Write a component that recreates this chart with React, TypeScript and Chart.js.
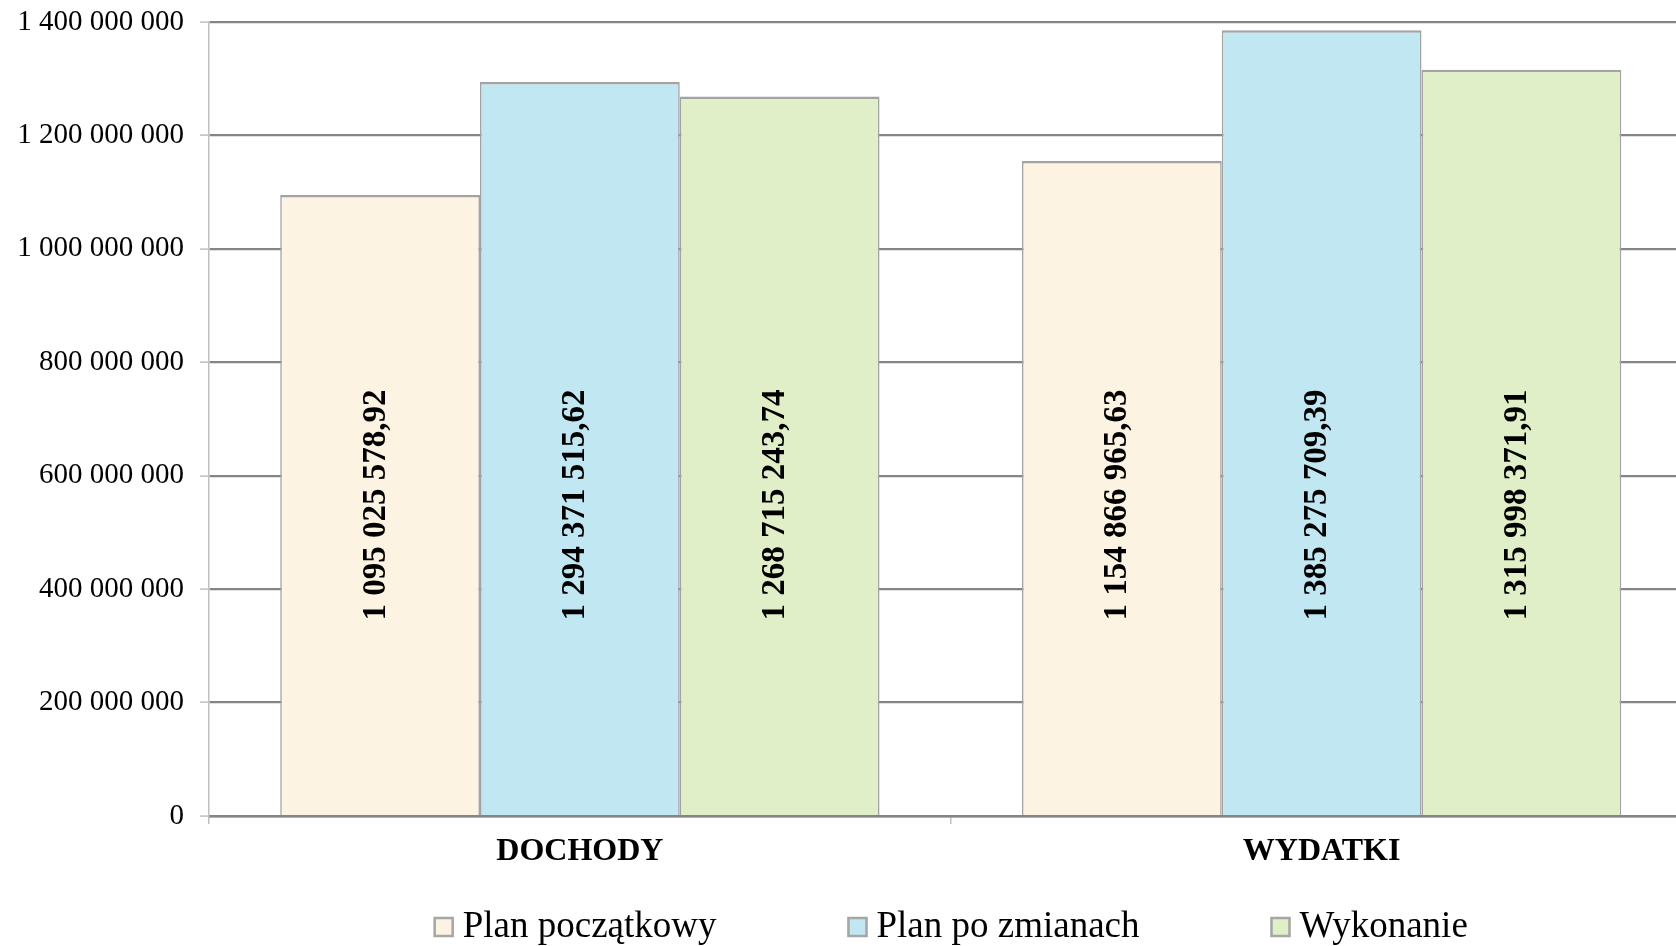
import React, { useEffect, useRef } from "react";
import { Chart, registerables } from "chart.js";

Chart.register(...registerables);

const categories = ["DOCHODY", "WYDATKI"];
const seriesNames = ["Plan początkowy", "Plan po zmianach", "Wykonanie"];
const planPoczatkowy = [1095025578.92, 1154866965.63];
const planPoZmianach = [1294371515.62, 1385275709.39];
const wykonanie = [1268715243.74, 1315998371.91];
const seriesColors = ["#fdf3e2", "#c0e7f2", "#e0efc7"];

const FONT = "'Liberation Serif', 'Times New Roman', serif";

function fmtInt(v: number): string {
  return Math.round(v).toString().replace(/\B(?=(\d{3})+(?!\d))/g, " ");
}
function fmtDec(v: number): string {
  const [i, d] = v.toFixed(2).split(".");
  return i.replace(/\B(?=(\d{3})+(?!\d))/g, " ") + "," + d;
}

const labelsPlugin = {
  id: "barLabels",
  afterDatasetsDraw(chart: any) {
    const { ctx, chartArea } = chart;
    ctx.save();
    ctx.font = `bold 33px ${FONT}`;
    ctx.fillStyle = "#000";
    ctx.textAlign = "center";
    ctx.textBaseline = "middle";
    chart.data.datasets.forEach((ds: any, di: number) => {
      const meta = chart.getDatasetMeta(di);
      meta.data.forEach((bar: any, i: number) => {
        ctx.save();
        ctx.translate(bar.x - 4, chartArea.bottom - 311);
        ctx.rotate(-Math.PI / 2);
        ctx.fillText(fmtDec(ds.data[i]), 0, 0);
        ctx.restore();
      });
    });
    ctx.restore();
  },
};

const legendPlugin = {
  id: "customLegend",
  afterDraw(chart: any) {
    const { ctx, chartArea } = chart;
    ctx.save();
    ctx.font = `37px ${FONT}`;
    const box = 20;
    const textGap = 9;
    const itemGap = 131;
    const widths = chart.data.datasets.map((ds: any) => box + textGap + ctx.measureText(ds.label).width);
    const total = widths.reduce((a: number, b: number) => a + b, 0) + itemGap * (widths.length - 1);
    let x = (chartArea.left + chartArea.right) / 2 - total / 2;
    const boxTop = 917;
    const baseline = 937;
    chart.data.datasets.forEach((ds: any, i: number) => {
      ctx.fillStyle = ds.backgroundColor;
      ctx.fillRect(x, boxTop, box, box);
      ctx.strokeStyle = "#a6a6a6";
      ctx.lineWidth = 2.5;
      ctx.strokeRect(x + 1, boxTop + 1, box - 2, box - 2);
      ctx.fillStyle = "#000";
      ctx.textAlign = "left";
      ctx.textBaseline = "alphabetic";
      ctx.fillText(ds.label, x + box + textGap, baseline);
      x += widths[i] + itemGap;
    });
    ctx.restore();
  },
};

export default function App() {
  const ref = useRef<HTMLCanvasElement | null>(null);
  useEffect(() => {
    if (!ref.current) return;
    const seriesData = [planPoczatkowy, planPoZmianach, wykonanie];
    const chart = new Chart(ref.current, {
      type: "bar",
      data: {
        labels: categories,
        datasets: seriesNames.map((name, i) => ({
          label: name,
          data: seriesData[i],
          backgroundColor: seriesColors[i],
          borderColor: "#a3a3a3",
          borderWidth: { top: 2.5, left: 1.6, right: 1.6, bottom: 0 },
          borderSkipped: false,
          categoryPercentage: 0.808,
          barPercentage: 1,
        })),
      },
      options: {
        responsive: false,
        animation: false,
        devicePixelRatio: 1,
        layout: { padding: { left: 0, right: 7.5, top: 22, bottom: 0 } },
        plugins: {
          legend: { display: false },
          tooltip: { enabled: false },
        },
        scales: {
          x: {
            grid: {
              display: true,
              drawOnChartArea: false,
              drawTicks: true,
              tickLength: 8,
              color: "#bfbfbf",
              lineWidth: 1.5,
            },
            border: { display: true, color: "#858585", width: 2.5 },
            ticks: {
              color: "#000",
              padding: 9,
              font: { family: FONT, size: 32, weight: "bold" },
            },
            afterFit(scale: any) {
              scale.height = 130;
              scale.paddingLeft = 0;
              scale.paddingRight = 0;
            },
          },
          y: {
            min: 0,
            max: 1400000000,
            ticks: {
              stepSize: 200000000,
              color: "#000",
              padding: 16,
              font: { family: FONT, size: 29 },
              callback: (v: any) => fmtInt(Number(v)),
            },
            grid: {
              color: "#858585",
              lineWidth: 2.2,
              tickLength: 9,
              tickColor: "#bfbfbf",
              tickWidth: 1.5,
            },
            border: { display: true, color: "#c0c0c0", width: 1.5 },
            afterFit(scale: any) {
              scale.width = 209;
              scale.paddingTop = 0;
              scale.paddingBottom = 0;
            },
          },
        },
      },
      plugins: [labelsPlugin, legendPlugin],
    });
    return () => chart.destroy();
  }, []);
  return (
    <div
      style={{
        position: "absolute",
        left: 0,
        top: 0,
        width: 1676,
        height: 946,
        overflow: "hidden",
        background: "#fff",
      }}
    >
      <canvas ref={ref} width={1700} height={946} style={{ display: "block" }} />
    </div>
  );
}
